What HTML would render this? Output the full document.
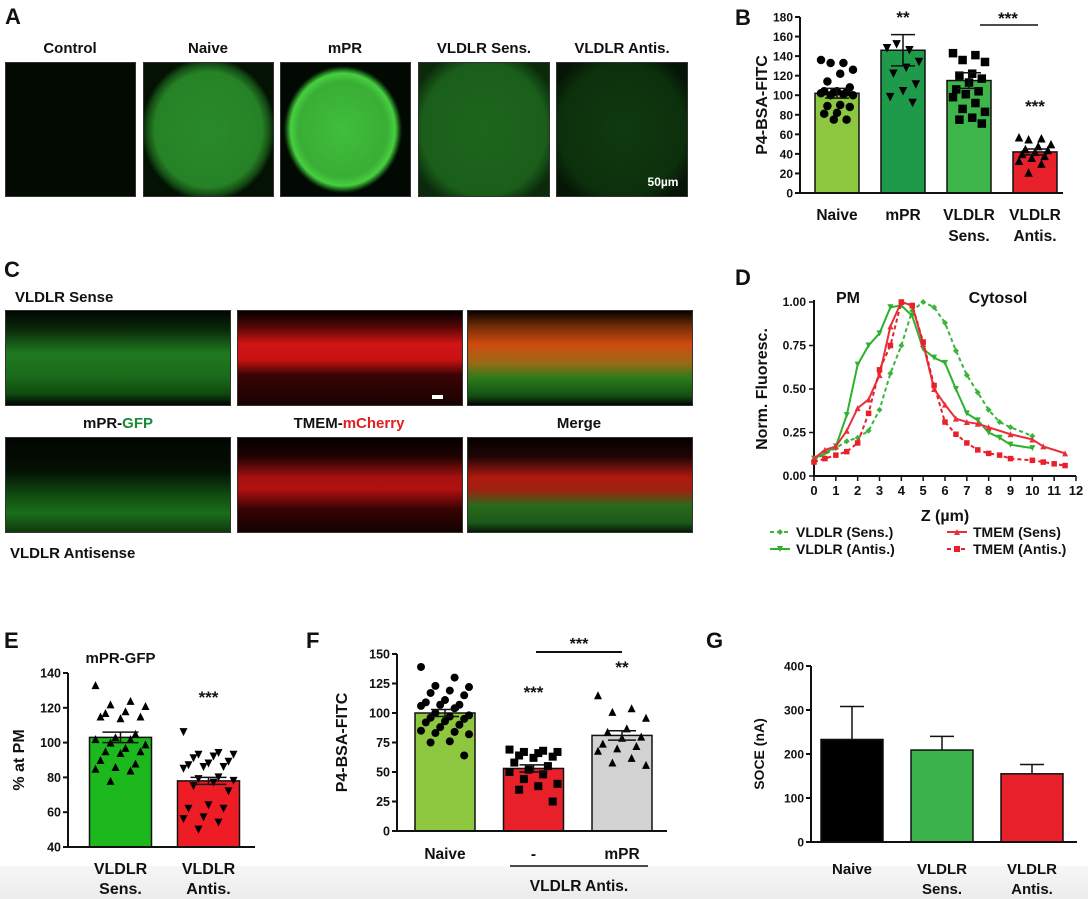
<!DOCTYPE html>
<html><head><meta charset="utf-8"><style>
html,body{margin:0;padding:0;background:#fff;}
#wrap{position:relative;width:1088px;height:899px;overflow:hidden;font-family:"Liberation Sans",Arial,sans-serif;}
.img{position:absolute;background:#000;border:1px solid #333;box-sizing:border-box;}
svg{position:absolute;left:0;top:0;}
text{font-family:"Liberation Sans",Arial,sans-serif;font-weight:bold;fill:#111;}
</style></head><body>
<div id="wrap">
<div style="position:absolute;left:0;top:866px;width:1088px;height:33px;background:linear-gradient(#f6f6f6,#ececec);"></div>
<!-- Panel A images -->
<div class="img" style="left:5px;top:62px;width:131px;height:135px;background:#020a02;"></div>
<div class="img" style="left:143px;top:62px;width:131px;height:135px;background:radial-gradient(ellipse 52% 54% at 50% 50%,#2a8a2a 0%,#268226 80%,#144a14 92%,#031203 100%);"></div>
<div class="img" style="left:280px;top:62px;width:131px;height:135px;background:radial-gradient(ellipse 46% 48% at 48% 50%,#3fbf3a 0%,#3aae35 75%,#46d040 88%,#0a300a 97%,#020802 100%);"></div>
<div class="img" style="left:418px;top:62px;width:132px;height:135px;background:radial-gradient(ellipse 60% 62% at 50% 50%,#1d661d 0%,#1a5e1a 80%,#0b2a0b 100%);"></div>
<div class="img" style="left:556px;top:62px;width:132px;height:135px;background:radial-gradient(ellipse 60% 62% at 50% 50%,#0f3a0f 0%,#0c300c 80%,#061606 100%);"></div>
<!-- Panel C images -->
<div class="img" style="left:5px;top:310px;width:226px;height:96px;background:linear-gradient(#020502 0%,#0a2a0a 20%,#1f7a1f 45%,#1a6a1a 70%,#0f4a0f 88%,#020502 100%);"></div>
<div class="img" style="left:237px;top:310px;width:226px;height:96px;background:linear-gradient(#050000 0%,#4a0505 15%,#d01515 35%,#c81212 52%,#3a0404 68%,#1a0202 100%);"></div>
<div class="img" style="left:467px;top:310px;width:226px;height:96px;background:linear-gradient(#050200 0%,#6a2a05 15%,#d04a10 35%,#9a6a15 55%,#2a7a1a 72%,#145014 90%,#030503 100%);"></div>
<div class="img" style="left:5px;top:437px;width:226px;height:96px;background:linear-gradient(#020502 0%,#041004 35%,#0f4a0f 60%,#1a6e1a 80%,#0d3a0d 100%);"></div>
<div class="img" style="left:237px;top:437px;width:226px;height:96px;background:linear-gradient(#050000 0%,#200202 20%,#a81010 42%,#b01010 55%,#3a0303 75%,#120101 100%);"></div>
<div class="img" style="left:467px;top:437px;width:226px;height:96px;background:linear-gradient(#050200 0%,#200505 20%,#b01a10 42%,#a02010 55%,#2a6a1a 72%,#1a5a1a 90%,#081808 100%);"></div>

<svg id="svg" width="1088" height="899" viewBox="0 0 1088 899">
<g font-size="22">
<text x="5" y="24" style="font-size:22px">A</text>
<text x="735" y="25" style="font-size:22px">B</text>
<text x="4" y="277" style="font-size:22px">C</text>
<text x="735" y="285" style="font-size:22px">D</text>
<text x="4" y="648" style="font-size:22px">E</text>
<text x="306" y="648" style="font-size:22px">F</text>
<text x="706" y="648" style="font-size:22px">G</text>
</g>
<g text-anchor="middle" style="font-size:15px">
<text x="70" y="53" style="font-size:15px">Control</text>
<text x="208" y="53" style="font-size:15px">Naive</text>
<text x="345" y="53" style="font-size:15px">mPR</text>
<text x="484" y="53" style="font-size:15px">VLDLR Sens.</text>
<text x="622" y="53" style="font-size:15px">VLDLR Antis.</text>
<text x="663" y="186" style="font-size:12px;fill:#fff">50µm</text>
</g>
<g style="font-size:15px">
<text x="15" y="302" style="font-size:15px">VLDLR Sense</text>
<text x="118" y="428" text-anchor="middle" style="font-size:15px">mPR-<tspan style="fill:#1a8a3a">GFP</tspan></text>
<text x="349" y="428" text-anchor="middle" style="font-size:15px">TMEM-<tspan style="fill:#e02020">mCherry</tspan></text>
<text x="579" y="428" text-anchor="middle" style="font-size:15px">Merge</text>
<text x="10" y="558" style="font-size:15px">VLDLR Antisense</text>
<rect x="432" y="395" width="11" height="4" fill="#fff"/>
</g>
<g id="gB"></g>
<g id="gD"></g>
<g id="gE"></g>
<g id="gF"></g>
<g id="gG"></g>
</svg>
</div>
<script>
// ---- Panel B data ----
const bCategories = ["Naive","mPR","VLDLR Sens.","VLDLR Antis."];
const bMeans = [102,146,115,42];
const bErrors = [5,16,8,3];
const bTicks = [0,20,40,60,80,100,120,140,160,180];
const bNaivePts = [136,133,133,126,122,114,108,104,104,103,103,102,101,100,100,90,89,88,82,81,75,75];
const bMprPts = [148,146,152,134,128,122,111,104,98,92];
const bSensPts = [143,141,136,134,122,120,117,113,106,104,101,98,92,86,83,77,75,71];
const bAntisPts = [57,56,55,50,48,45,44,42,40,38,36,33,30,21];
// ---- Panel D data ----
const dXTicks = [0,1,2,3,4,5,6,7,8,9,10,11,12];
const dYTicks = [0,0.25,0.5,0.75,1.0];
const dYTickLabels = ["0.00","0.25","0.50","0.75","1.00"];
const dVSensX = [0,1,1.5,2,2.5,3,3.5,4,4.5,5,5.5,6,6.5,7,7.5,8,8.5,9,10];
const dVSensY = [0.09,0.16,0.2,0.22,0.26,0.38,0.59,0.75,0.95,1.0,0.97,0.88,0.72,0.58,0.48,0.38,0.31,0.28,0.23];
const dVAntisX = [0,0.5,1,1.5,2,2.5,3,3.5,4,4.5,5,5.5,6,6.5,7,7.5,8,8.5,9,10];
const dVAntisY = [0.10,0.13,0.17,0.35,0.64,0.75,0.82,0.97,0.98,0.92,0.73,0.68,0.65,0.5,0.36,0.32,0.25,0.22,0.18,0.16];
const dTSensX = [0,0.5,1,1.5,2,2.5,3,3.5,4,4.5,5,5.5,6,6.5,7,7.5,8,9,10,10.5,11.5];
const dTSensY = [0.10,0.15,0.17,0.26,0.39,0.44,0.58,0.86,1.0,0.98,0.76,0.5,0.41,0.33,0.31,0.30,0.28,0.24,0.21,0.17,0.13];
const dTAntisX = [0,0.5,1,1.5,2,2.5,3,3.5,4,4.5,5,5.5,6,6.5,7,7.5,8,8.5,9,10,10.5,11,11.5];
const dTAntisY = [0.08,0.10,0.12,0.14,0.19,0.36,0.61,0.75,1.0,0.98,0.77,0.52,0.31,0.24,0.19,0.15,0.13,0.12,0.10,0.09,0.08,0.07,0.06];
// ---- Panel E data ----
const eCategories = ["VLDLR Sens.","VLDLR Antis."];
const eMeans = [103,78];
const eErrors = [3,2];
const eTicks = [40,60,80,100,120,140];
const eSensPts = [133,124,122,121,118,117,115,114,115,105,103,102,102,100,99,97,95,95,94,90,88,86,85,84,78];
const eAntisPts = [106,94,93,93,92,91,89,88,87,86,86,85,80,79,78,77,75,72,64,62,62,57,56,54,50];
// ---- Panel F data ----
const fCategories = ["Naive","-","mPR"];
const fMeans = [100,53,81];
const fErrors = [3,3,4];
const fTicks = [0,25,50,75,100,125,150];
const fNaivePts = [139,130,123,122,119,117,115,111,109,107,107,106,104,100,98,97,96,95,93,92,90,88,85,84,83,82,76,75,64];
const fMinusPts = [69,68,67,67,66,64,63,62,58,55,52,50,48,44,40,38,35,25];
const fMprPts = [115,104,101,96,87,84,80,79,74,72,70,68,62,58,56];
// ---- Panel G data ----
const gCategories = ["Naive","VLDLR Sens.","VLDLR Antis."];
const gMeans = [233,209,155];
const gErrors = [75,31,21];
const gTicks = [0,100,200,300,400];

const NS="http://www.w3.org/2000/svg";
function mk(parent,tag,attrs,txt){const e=document.createElementNS(NS,tag);for(const k in attrs)e.setAttribute(k,attrs[k]);if(txt!==undefined)e.textContent=txt;parent.appendChild(e);return e;}
function lin(d0,d1,r0,r1){return v=>r0+(v-d0)*(r1-r0)/(d1-d0);}
function marker(g,type,x,y,s,fill){
  let e;
  if(type==="circle"){e=mk(g,"circle",{cx:x,cy:y,r:s/2,fill:fill});}
  else if(type==="square"){e=mk(g,"rect",{x:x-s/2,y:y-s/2,width:s,height:s,fill:fill});}
  else if(type==="tri"){e=mk(g,"polygon",{points:`${x},${y-s/2} ${x-s/2},${y+s/2} ${x+s/2},${y+s/2}`,fill:fill});}
  else if(type==="dia"){e=mk(g,"polygon",{points:`${x},${y-s/2} ${x-s/2},${y} ${x},${y+s/2} ${x+s/2},${y}`,fill:fill});}
  else {e=mk(g,"polygon",{points:`${x},${y+s/2} ${x-s/2},${y-s/2} ${x+s/2},${y-s/2}`,fill:fill});}
  return e;
}
function barPanel(o){
  const g=document.getElementById(o.id);
  const ys=lin(o.vmin,o.vmax,o.yBot,o.yTop);
  const xc=i=>o.c0+i*o.step;
  o.means.forEach((m,i)=>{
    const r=mk(g,"rect",{x:xc(i)-o.bw/2,y:ys(m),width:o.bw,height:o.yBot-ys(m),fill:o.colors[i],stroke:"#111","stroke-width":1.5});
    
    
  });
  (o.points||[]).forEach((pts,i)=>{
    pts.forEach((v,j)=>{
      const off=(((j*7)%11)-5)/5*(o.bw/2-6);
      const p=marker(g,o.markers[i],xc(i)+off,ys(v),o.ms,"#000");
      
      
    });
  });
  o.means.forEach((m,i)=>{
    const top=ys(m+o.errs[i]), bot=o.twoSided?ys(m-o.errs[i]):ys(m);
    mk(g,"line",{x1:xc(i),x2:xc(i),y1:top,y2:bot,stroke:"#111","stroke-width":1.5});
    mk(g,"line",{x1:xc(i)-o.cap,x2:xc(i)+o.cap,y1:top,y2:top,stroke:"#111","stroke-width":1.5});
    if(o.twoSided)mk(g,"line",{x1:xc(i)-o.cap,x2:xc(i)+o.cap,y1:bot,y2:bot,stroke:"#111","stroke-width":1.5});
  });
  const ya=mk(g,"line",{x1:o.ax,x2:o.ax,y1:o.yTop,y2:o.yBot+1,stroke:"#111","stroke-width":2});
  
  const xa=mk(g,"line",{x1:o.ax-1,x2:o.xEnd,y1:o.yBot,y2:o.yBot,stroke:"#111","stroke-width":2});
  
  o.ticks.forEach(t=>{
    mk(g,"line",{x1:o.ax-5,x2:o.ax,y1:ys(t),y2:ys(t),stroke:"#111","stroke-width":2});
    const tl=mk(g,"text",{x:o.ax-7,y:ys(t)+4.5,"text-anchor":"end",style:`font-size:${o.tfs}px`},String(t));
    
  });
  const tt=mk(g,"text",{x:0,y:0,"text-anchor":"middle",transform:`translate(${o.titleX},${(o.yTop+o.yBot)/2}) rotate(-90)`,style:`font-size:${o.titleFs}px`},o.title);
  
  o.labels.forEach((lab,i)=>{
    lab.split("\n").forEach((ln,k)=>{
      const t=mk(g,"text",{x:xc(i),y:o.labY+k*o.labDy,"text-anchor":"middle",style:`font-size:${o.lfs}px`},ln);
      
    });
  });
  return {g,ys,xc};
}
const B=barPanel({id:"gB",ax:800,xEnd:1063,yTop:17,yBot:193,vmin:0,vmax:180,c0:837,step:66,bw:44,
  means:bMeans,errs:bErrors,colors:["#8dc63f","#1e9a4a","#3db54a","#e8202a"],points:[bNaivePts,bMprPts,bSensPts,bAntisPts],
  markers:["circle","down","square","tri"],ms:8.5,cap:12,twoSided:true,ticks:bTicks,tfs:12,title:"P4-BSA-FITC",titleX:767,titleFs:16,
  labels:["Naive","mPR","VLDLR\nSens.","VLDLR\nAntis."],labY:220,labDy:21,lfs:15.5});
mk(B.g,"text",{x:B.xc(1),y:23,"text-anchor":"middle",style:"font-size:17px"},"**");
mk(B.g,"text",{x:1008,y:24,"text-anchor":"middle",style:"font-size:17px"},"***");
mk(B.g,"line",{x1:980,x2:1038,y1:25,y2:25,stroke:"#111","stroke-width":1.5});
mk(B.g,"text",{x:B.xc(3),y:112,"text-anchor":"middle",style:"font-size:17px"},"***");
const E=barPanel({id:"gE",ax:68,xEnd:255,yTop:673,yBot:847,vmin:40,vmax:140,c0:120.5,step:88,bw:62,
  means:eMeans,errs:eErrors,colors:["#1db81d","#ee1c25"],points:[eSensPts,eAntisPts],markers:["tri","down"],ms:8,cap:18,twoSided:true,
  ticks:eTicks,tfs:12.5,title:"% at PM",titleX:24,titleFs:16,labels:["VLDLR\nSens.","VLDLR\nAntis."],labY:874,labDy:20,lfs:16});
mk(E.g,"text",{x:E.xc(0),y:663,"text-anchor":"middle",style:"font-size:15px"},"mPR-GFP");
mk(E.g,"text",{x:E.xc(1),y:703,"text-anchor":"middle",style:"font-size:17px"},"***");
const F=barPanel({id:"gF",ax:397,xEnd:667,yTop:654,yBot:831,vmin:0,vmax:150,c0:445,step:88.5,bw:60,
  means:fMeans,errs:fErrors,colors:["#8dc63f","#e8202a","#d2d2d2"],points:[fNaivePts,fMinusPts,fMprPts],markers:["circle","square","tri"],ms:8,cap:14,twoSided:true,
  ticks:fTicks,tfs:12.5,title:"P4-BSA-FITC",titleX:347,titleFs:16,labels:["Naive","-","mPR"],labY:859,labDy:20,lfs:15.5});
mk(F.g,"line",{x1:536,x2:622,y1:652,y2:652,stroke:"#111","stroke-width":2});
mk(F.g,"text",{x:579,y:649,"text-anchor":"middle",style:"font-size:16px"},"***");
mk(F.g,"text",{x:F.xc(1),y:698,"text-anchor":"middle",style:"font-size:17px"},"***");
mk(F.g,"text",{x:F.xc(2),y:673,"text-anchor":"middle",style:"font-size:17px"},"**");
mk(F.g,"line",{x1:510,x2:648,y1:866,y2:866,stroke:"#111","stroke-width":1.5});
mk(F.g,"text",{x:579,y:891,"text-anchor":"middle",style:"font-size:15.5px"},"VLDLR Antis.");
barPanel({id:"gG",ax:811,xEnd:1077,yTop:666,yBot:842,vmin:0,vmax:400,c0:852,step:90,bw:62,
  means:gMeans,errs:gErrors,colors:["#000","#3cb34a","#e8212b"],points:[],markers:[],ms:0,cap:12,twoSided:false,
  ticks:gTicks,tfs:12,title:"SOCE (nA)",titleX:764,titleFs:14,labels:["Naive","VLDLR\nSens.","VLDLR\nAntis."],labY:874,labDy:20,lfs:15});
(function(){
  const g=document.getElementById("gD");
  const xs=lin(0,12,814,1076), ys=lin(0,1,476,302);
  mk(g,"line",{x1:814,x2:814,y1:300,y2:477,stroke:"#111","stroke-width":2});
  mk(g,"line",{x1:813,x2:1076,y1:476,y2:476,stroke:"#111","stroke-width":2});
  dXTicks.forEach(t=>{mk(g,"line",{x1:xs(t),x2:xs(t),y1:476,y2:481,stroke:"#111","stroke-width":1.5});
    const l=mk(g,"text",{x:xs(t),y:495,"text-anchor":"middle",style:"font-size:13px"},String(t));
    });
  dYTicks.forEach((t,i)=>{mk(g,"line",{x1:809,x2:814,y1:ys(t),y2:ys(t),stroke:"#111","stroke-width":1.5});
    const l=mk(g,"text",{x:806,y:ys(t)+4,"text-anchor":"end",style:"font-size:12px"},dYTickLabels[i]);
    });
  mk(g,"text",{x:0,y:0,"text-anchor":"middle",transform:"translate(767,389) rotate(-90)",style:"font-size:16px"},"Norm. Fluoresc.");
  mk(g,"text",{x:945,y:521,"text-anchor":"middle",style:"font-size:16px"},"Z (µm)");
  mk(g,"text",{x:848,y:303,"text-anchor":"middle",style:"font-size:16px"},"PM");
  mk(g,"text",{x:998,y:303,"text-anchor":"middle",style:"font-size:16px"},"Cytosol");
  const series=[
    {x:dVSensX,y:dVSensY,c:"#3cb43c",dash:"4,3",m:"dia",n:"vldlr-sens"},
    {x:dVAntisX,y:dVAntisY,c:"#2fb02f",dash:"",m:"down",n:"vldlr-antis"},
    {x:dTSensX,y:dTSensY,c:"#e8303a",dash:"",m:"tri",n:"tmem-sens"},
    {x:dTAntisX,y:dTAntisY,c:"#e8202a",dash:"4,3",m:"square",n:"tmem-antis"}];
  series.forEach(s=>{
    const pts=s.x.map((v,i)=>xs(v)+","+ys(s.y[i])).join(" ");
    const pl=mk(g,"polyline",{points:pts,fill:"none",stroke:s.c,"stroke-width":2,"stroke-dasharray":s.dash});
    
    
    s.x.forEach((v,i)=>{marker(g,s.m,xs(v),ys(s.y[i]),s.m==="square"?5.5:6,s.c);});
  });
  const leg=[["VLDLR (Sens.)",770,537,0],["VLDLR (Antis.)",770,554,1],["TMEM (Sens)",947,537,2],["TMEM (Antis.)",947,554,3]];
  leg.forEach(L=>{const s=series[L[3]];
    const lg=mk(g,"g",{});
    
    
    mk(lg,"line",{x1:L[1],x2:L[1]+20,y1:L[2]-5,y2:L[2]-5,stroke:s.c,"stroke-width":2,"stroke-dasharray":s.dash});
    marker(lg,s.m,L[1]+10,L[2]-5,6,s.c);
    mk(lg,"text",{x:L[1]+26,y:L[2],style:"font-size:14px"},L[0]);});
})();
</script>
</body></html>
